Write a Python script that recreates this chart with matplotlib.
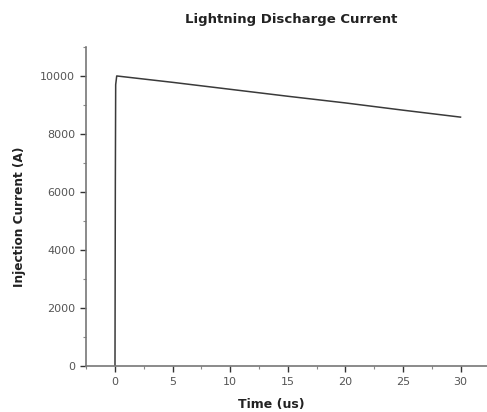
import numpy as np
import matplotlib
matplotlib.use("Agg")
import matplotlib.pyplot as plt
from matplotlib.ticker import MultipleLocator

# Lightning injection current waveform
time_us = [0.0, 0.03, 0.06, 0.15, 5.0, 10.0, 15.0, 20.0, 25.0, 30.0]
current_a = [0, 6300, 9700, 10000, 9780, 9540, 9300, 9070, 8820, 8580]

plt.rcParams.update({
    "font.family": ["DejaVu Sans"],
    "xtick.direction": "out",
    "ytick.direction": "out",
})

fig = plt.figure(figsize=(4.87, 4.12), dpi=100)
ax = fig.add_axes([0.177, 0.112, 0.823, 0.774])

ax.plot(time_us, current_a, "-", color="#3a3a3a", linewidth=1.1)

ax.set_xlim(-2.5, 32.3)
ax.set_ylim(0, 11000)
ax.xaxis.set_major_locator(MultipleLocator(5))
ax.xaxis.set_minor_locator(MultipleLocator(2.5))
ax.yaxis.set_major_locator(MultipleLocator(2000))
ax.yaxis.set_minor_locator(MultipleLocator(1000))

for s in ("top", "right"):
    ax.spines[s].set_visible(False)
for s in ("left", "bottom"):
    ax.spines[s].set_color("#777777")
    ax.spines[s].set_linewidth(1.2)

ax.tick_params(which="major", length=4, width=1.0, colors="#333333",
               labelsize=8, labelcolor="#555555", pad=4)
ax.tick_params(which="minor", length=2, width=0.8, colors="#888888")

ax.set_xlabel("Time (us)", fontsize=9, fontweight="bold", color="#222222")
ax.xaxis.set_label_coords(0.461, -0.1)
ax.set_ylabel("Injection Current (A)", fontsize=8.7, fontweight="bold",
              color="#222222")
ax.yaxis.set_label_coords(-0.15, 0.467)
ax.set_title("Lightning Discharge Current", fontsize=9.5, fontweight="bold",
             color="#222222", pad=17, x=0.512)

fig.savefig("out.png", dpi=100)
